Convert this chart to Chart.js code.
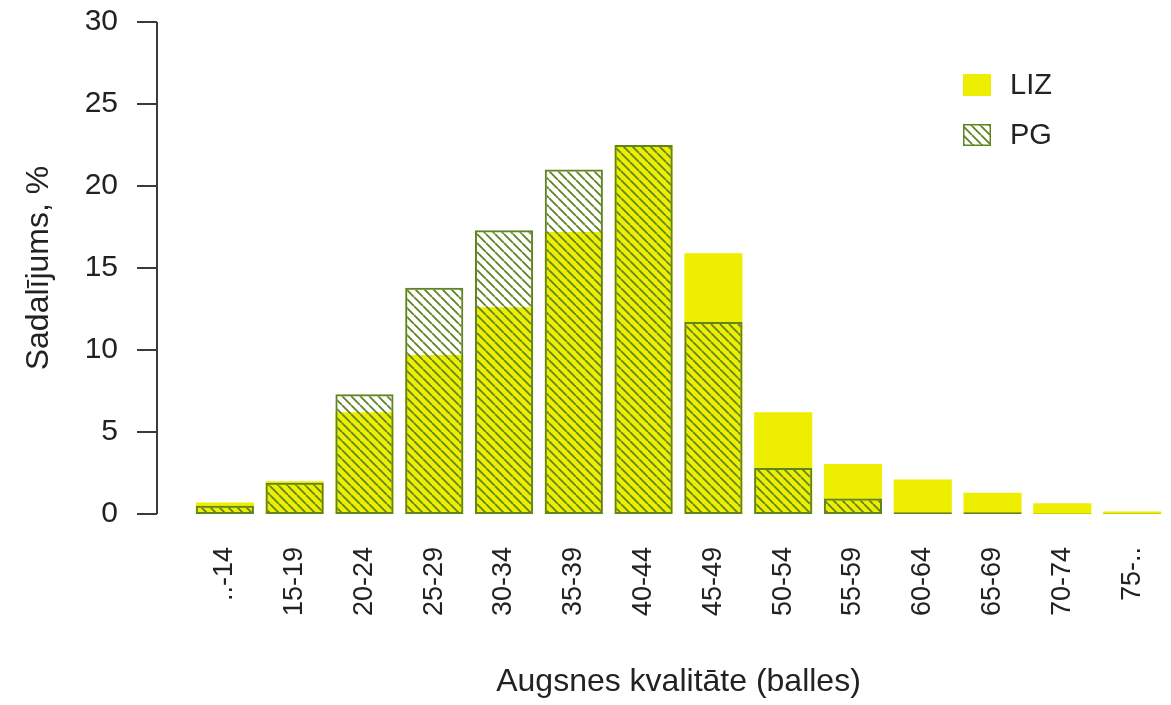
<!DOCTYPE html>
<html>
<head>
<meta charset="utf-8">
<script src="https://cdn.jsdelivr.net/npm/chart.js@4.4.0/dist/chart.umd.min.js"></script>
<style>
  html, body { margin: 0; padding: 0; background: #fff; }
</style>
</head>
<body>
<canvas id="chart" width="1171" height="705"></canvas>
<script>
// score classes and share of land (%) in each class
const groups = ["..-14", "15-19", "20-24", "25-29", "30-34", "35-39", "40-44",
                "45-49", "50-54", "55-59", "60-64", "65-69", "70-74", "75-.."];
const lizValues = [0.7, 2.0, 6.2, 9.7, 12.6, 17.2, 22.5, 15.9, 6.2, 3.05, 2.1, 1.3, 0.65, 0.15];
const pgValues = [0.5, 1.9, 7.3, 13.8, 17.3, 21.0, 22.5, 11.7, 2.8, 0.95, 0.1, 0.1, 0.03, 0.03];
const yTicks = [0, 5, 10, 15, 20, 25, 30];

const fontFamily = '"Liberation Sans", Arial, Helvetica, sans-serif';
const ink = '#222';
const yellow = '#eeee00';
const olive = '#5f8420';

const canvas = document.getElementById('chart');
const ctx = canvas.getContext('2d');

// diagonal "\\\" hatch for the PG bars
const makeHatch = (step, color) => {
    const c = document.createElement('canvas');
    c.width = step;
    c.height = step;
    const g = c.getContext('2d');
    g.strokeStyle = color;
    g.lineWidth = 1.8;
    g.beginPath();
    for (const k of [-step, 0, step]) {
        g.moveTo(k, 0);
        g.lineTo(k + step, step);
    }
    g.stroke();
    return ctx.createPattern(c, 'repeat');
};
const hatch = makeHatch(9, olive);

// y axis drawn a bit left of the plot area, R style
const yAxisLine = {
    id: 'yAxisLine',
    afterDraw(chart) {
        const { ctx, chartArea, scales: { y } } = chart;
        const x0 = chartArea.left - 33;
        ctx.save();
        ctx.strokeStyle = '#3a3a3a';
        ctx.lineWidth = 2;
        ctx.beginPath();
        ctx.moveTo(x0, y.getPixelForValue(y.min));
        ctx.lineTo(x0, y.getPixelForValue(y.max));
        y.ticks.forEach(t => {
            const py = y.getPixelForValue(t.value);
            ctx.moveTo(x0 - 20, py);
            ctx.lineTo(x0, py);
        });
        ctx.stroke();
        ctx.restore();
    }
};

// legend inside the plot, top right
const boxLegend = {
    id: 'boxLegend',
    afterDraw(chart) {
        const { ctx, chartArea } = chart;
        const x = chartArea.right - 204;
        const y0 = chartArea.top + 52;
        chart.data.datasets.forEach((ds, i) => {
            const y = y0 + i * 50;
            ctx.save();
            ctx.fillStyle = ds.backgroundColor;
            ctx.fillRect(x, y, 28, 22);
            if (ds.borderWidth) {
                ctx.strokeStyle = ds.borderColor;
                ctx.lineWidth = 1.5;
                ctx.strokeRect(x + 0.75, y + 0.75, 26.5, 20.5);
            }
            ctx.fillStyle = ink;
            ctx.font = `29px ${fontFamily}`;
            ctx.textBaseline = 'middle';
            ctx.fillText(ds.label, x + 47, y + 12);
            ctx.restore();
        });
    }
};

new Chart(ctx, {
    type: 'bar',
    data: {
        labels: groups,
        datasets: [
            { label: 'LIZ', data: lizValues, backgroundColor: yellow, borderWidth: 0, order: 2 },
            { label: 'PG', data: pgValues, backgroundColor: hatch, borderColor: olive,
              borderWidth: 2, borderSkipped: false, order: 1 }
        ]
    },
    options: {
        responsive: false,
        animation: false,
        layout: { padding: { top: 22, right: 4, left: 0, bottom: 0 } },
        datasets: { bar: { grouped: false, barPercentage: 0.833, categoryPercentage: 1 } },
        plugins: { legend: { display: false }, tooltip: { enabled: false } },
        scales: {
            x: {
                // invisible tick marks keep the rotated labels clear of the bars
                grid: { display: false, drawTicks: true, tickLength: 33 },
                border: { display: false },
                ticks: {
                    autoSkip: false, minRotation: 90, maxRotation: 90, padding: 0,
                    color: ink, font: { family: fontFamily, size: 27 }
                },
                title: {
                    display: true, text: 'Augsnes kvalitāte (balles)', color: ink,
                    font: { family: fontFamily, size: 32 }, padding: { top: 0, bottom: 4 }
                },
                afterFit: s => { s.height = 191; }
            },
            y: {
                min: 0, max: 30,
                afterBuildTicks: s => { s.ticks = yTicks.map(v => ({ value: v })); },
                grid: { display: false, drawTicks: true, tickLength: 72 },
                border: { display: false },
                ticks: { padding: 0, color: ink, font: { family: fontFamily, size: 30 } },
                title: {
                    display: true, text: 'Sadalījums, %', color: ink,
                    font: { family: fontFamily, size: 32 }, padding: { top: 20, bottom: 0 }
                },
                afterFit: s => { s.width = 190; }
            }
        }
    },
    plugins: [yAxisLine, boxLegend]
});
</script>
</body>
</html>
